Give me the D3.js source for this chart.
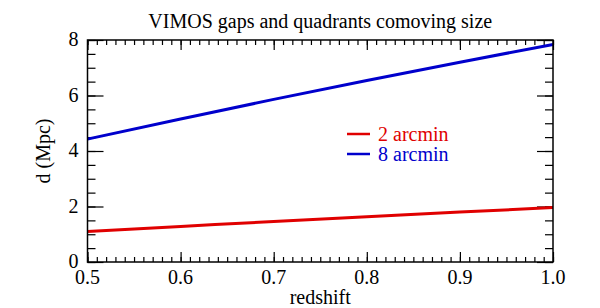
<!DOCTYPE html>
<html>
<head>
<meta charset="utf-8">
<script src="https://cdn.jsdelivr.net/npm/d3@7"></script>
<style>
  body { margin: 0; background: #fff; }
</style>
</head>
<body>
<div id="chart"></div>
<script>
// data
let redshift = [0.5, 0.6, 0.7, 0.8, 0.9, 1.0]
let size2 = [1.10, 1.28, 1.46, 1.63, 1.80, 1.96]
let size8 = [4.43, 5.15, 5.86, 6.54, 7.20, 7.84]
let seriesNames = ['2 arcmin', '8 arcmin']
let seriesColors = ['#e00000', '#0000cc']
let xTicks = [0.5, 0.6, 0.7, 0.8, 0.9, 1.0]
let yTicks = [0, 2, 4, 6, 8]

let width = 600
let height = 308
let plotLeft = 87.5, plotRight = 553, plotTop = 40, plotBottom = 262
let serif = "'Liberation Serif', 'Times New Roman', 'DejaVu Serif', serif"

let svg = d3.select('#chart')
  .append('svg')
    .attr('width', width)
    .attr('height', height)
    .style('font-family', serif)

let x = d3.scaleLinear().domain([0.5, 1.0]).range([plotLeft, plotRight])
let y = d3.scaleLinear().domain([0, 8]).range([plotBottom, plotTop])

let minorX = d3.range(50, 101).map(d => d / 100)
let minorY = d3.range(0, 17).map(d => d / 2)

let tickStyle = (g) => {
  g.select('.domain').remove()
  g.selectAll('line').attr('stroke', '#000').attr('stroke-width', 1.2)
  g.selectAll('text').remove()
}

// ticks pointing inward on all sides
svg.append('g').attr('transform', `translate(0,${plotBottom})`)
  .call(d3.axisBottom(x).tickValues(minorX).tickSize(-5)).call(tickStyle)
svg.append('g').attr('transform', `translate(0,${plotBottom})`)
  .call(d3.axisBottom(x).tickValues(xTicks).tickSize(-10)).call(tickStyle)
svg.append('g').attr('transform', `translate(0,${plotTop})`)
  .call(d3.axisTop(x).tickValues(minorX).tickSize(-5)).call(tickStyle)
svg.append('g').attr('transform', `translate(0,${plotTop})`)
  .call(d3.axisTop(x).tickValues(xTicks).tickSize(-10)).call(tickStyle)
svg.append('g').attr('transform', `translate(${plotLeft},0)`)
  .call(d3.axisLeft(y).tickValues(minorY).tickSize(-8)).call(tickStyle)
svg.append('g').attr('transform', `translate(${plotLeft},0)`)
  .call(d3.axisLeft(y).tickValues(yTicks).tickSize(-16)).call(tickStyle)
svg.append('g').attr('transform', `translate(${plotRight},0)`)
  .call(d3.axisRight(y).tickValues(minorY).tickSize(-8)).call(tickStyle)
svg.append('g').attr('transform', `translate(${plotRight},0)`)
  .call(d3.axisRight(y).tickValues(yTicks).tickSize(-16)).call(tickStyle)

// tick labels
svg.selectAll('.xlab')
  .data(xTicks)
  .enter()
  .append('text')
    .attr('x', d => x(d))
    .attr('y', plotBottom + 22)
    .attr('text-anchor', 'middle')
    .attr('font-size', 20)
    .style('font-family', serif)
    .text(d => d.toFixed(1))

svg.selectAll('.ylab')
  .data(yTicks)
  .enter()
  .append('text')
    .attr('x', plotLeft - 9)
    .attr('y', d => y(d) + 6)
    .attr('text-anchor', 'end')
    .attr('font-size', 20)
    .style('font-family', serif)
    .text(d => d)

// lines
let series = [size2, size8]
let line = d3.line()
  .x((d, i) => x(redshift[i]))
  .y(d => y(d))
  .curve(d3.curveMonotoneX)

series.forEach((s, i) => {
  svg.append('path')
    .attr('d', line(s))
    .attr('fill', 'none')
    .attr('stroke', seriesColors[i])
    .attr('stroke-width', 3)
})

// frame
svg.append('rect')
  .attr('x', plotLeft)
  .attr('y', plotTop)
  .attr('width', plotRight - plotLeft)
  .attr('height', plotBottom - plotTop)
  .attr('fill', 'none')
  .attr('stroke', '#000')
  .attr('stroke-width', 1.5)

// legend
seriesNames.forEach((name, i) => {
  let ly = 134 + i * 20
  svg.append('line')
    .attr('x1', 347).attr('x2', 370)
    .attr('y1', ly).attr('y2', ly)
    .attr('stroke', seriesColors[i])
    .attr('stroke-width', 2.5)
  svg.append('text')
    .attr('x', 378)
    .attr('y', ly + 7)
    .attr('font-size', 20)
    .attr('fill', seriesColors[i])
    .style('font-family', serif)
    .text(name)
})

// titles
svg.append('text')
  .attr('x', (plotLeft + plotRight) / 2)
  .attr('y', 28)
  .attr('text-anchor', 'middle')
  .attr('font-size', 20)
  .style('font-family', serif)
  .text('VIMOS gaps and quadrants comoving size')

svg.append('text')
  .attr('x', (plotLeft + plotRight) / 2)
  .attr('y', 304)
  .attr('text-anchor', 'middle')
  .attr('font-size', 20)
  .style('font-family', serif)
  .text('redshift')

svg.append('text')
  .attr('transform', `translate(50,${(plotTop + plotBottom) / 2}) rotate(-90)`)
  .attr('text-anchor', 'middle')
  .attr('font-size', 20)
  .style('font-family', serif)
  .text('d (Mpc)')
</script>
</body>
</html>
